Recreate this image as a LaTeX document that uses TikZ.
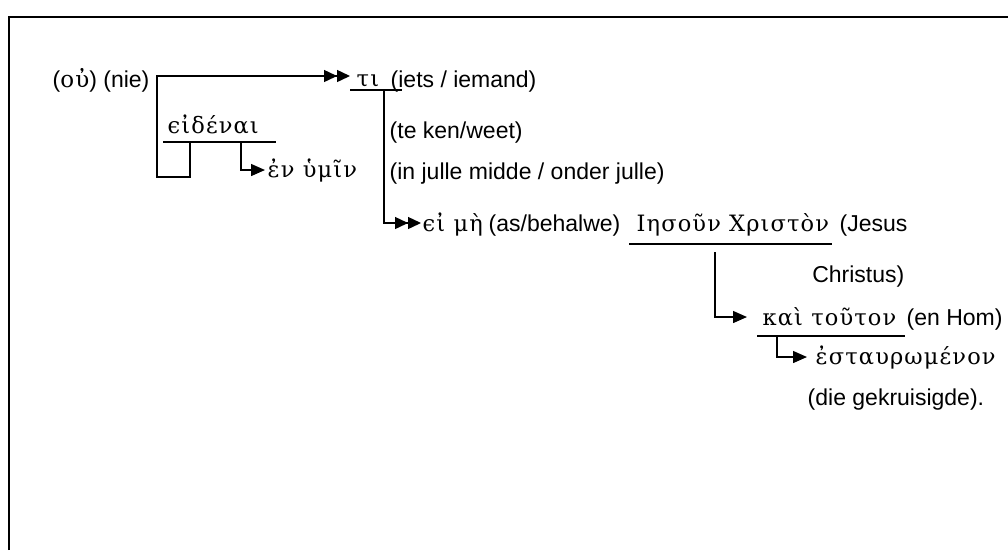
\documentclass[tikz,border=0pt]{standalone}
\usepackage{fontspec}
\setmainfont{Liberation Sans}
\newfontfamily\grk[LetterSpace=5]{DejaVu Serif}
\usetikzlibrary{arrows.meta}
\tikzset{
  txt/.style={anchor=base west, inner sep=0pt, font=\fontsize{23}{27}\selectfont},
  gr/.style={anchor=base west, inner sep=0pt, font=\grk\fontsize{22.5}{26}\selectfont},
  onetip/.style={-{Triangle[length=14pt,width=12pt]}},
  twotip/.style={-{Triangle[length=13pt,width=12pt]Triangle[length=13pt,width=12pt]}}
}
\begin{document}
\begin{tikzpicture}[x=1pt,y=-1pt,line width=1.4pt]
\useasboundingbox (0,0) rectangle (1008,550);
\draw [line width=2pt] (9,550) -- (9,17) -- (1008,17);
\node [txt] (nie) at (52,87) {({\grk οὐ}) (nie)};
\node [gr] (ti) at (356,86) {τι};
\node [txt] (iets) at (390,87) {(iets / iemand)};
\node [txt] (kenweet) at (389,138) {(te ken/weet)};
\node [gr] (eidenai) at (167,133) {ϵἰδέναι};
\node [gr] (enhumin) at (267,177) {ἐν ὑμῖν};
\node [txt] (midde) at (389,179) {(in julle midde / onder julle)};
\node [gr] (eime) at (422,231) {ϵἰ μὴ};
\node [txt] (behalwe) at (488,231) {(as/behalwe)};
\node [gr] (iesoun) at (636,231) {Ιησοῦν Χριστὸν};
\node [txt] (jesus) at (839,231) {(Jesus};
\node [txt, anchor=base east] (christus) at (905,282) {Christus)};
\node [gr] (kaitouton) at (762,325) {καὶ τοῦτον};
\node [txt] (enhom) at (906,325) {(en Hom)};
\node [gr] (estaur) at (815,364) {ἐσταυρωμένον};
\node [txt] (gekruis) at (807,405) {(die gekruisigde).};
\coordinate (tiL) at (350,90);
\coordinate (tiR) at (402,90);
\coordinate (tiDown) at (384,90);
\coordinate (edL) at (163,142);
\coordinate (edR) at (276,142);
\coordinate (edA) at (190,142);
\coordinate (edB) at (241,142);
\coordinate (brak) at (157,177);
\coordinate (isL) at (629,244);
\coordinate (isR) at (832,244);
\coordinate (isDown) at (715,252);
\coordinate (ktL) at (757,336);
\coordinate (ktR) at (905,336);
\coordinate (ktDown) at (777,336);
\coordinate (tipTi) at (350,76);
\coordinate (tipEn) at (265,170);
\coordinate (tipEi) at (421,223);
\coordinate (tipKt) at (747,317);
\coordinate (tipEs) at (807,357);
\draw (tiL) -- (tiR);
\draw (edL) -- (edR);
\draw (isL) -- (isR);
\draw (ktL) -- (ktR);
\draw [twotip] (edA) |- (brak) |- (tipTi);
\draw [onetip] (edB) |- (tipEn);
\draw [twotip] (tiDown) |- (tipEi);
\draw [onetip] (isDown) |- (tipKt);
\draw [onetip] (ktDown) |- (tipEs);
\end{tikzpicture}
\end{document}
